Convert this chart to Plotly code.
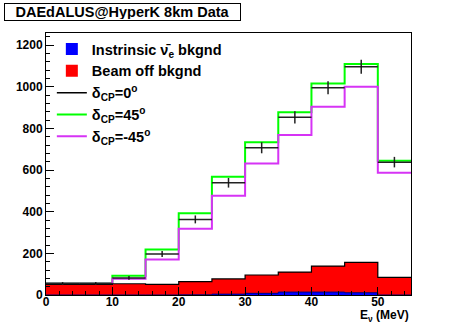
import numpy as np
import plotly.graph_objects as go

# 5 MeV bins from 0 to 55 MeV
bin_edges = [0, 5, 10, 15, 20, 25, 30, 35, 40, 45, 50, 55]
bin_centers = [2.5, 7.5, 12.5, 17.5, 22.5, 27.5, 32.5, 37.5, 42.5, 47.5, 52.5]

intrinsic_bkg = [0, 0, 0, 0, 1, 4, 8, 14, 14, 11, 0]
beam_off_bkg = [51, 51, 54, 51, 63, 73, 88, 96, 125, 146, 85]
dcp_0 = [55, 55, 82, 197, 363, 539, 707, 853, 995, 1096, 638]
dcp_p45 = [56, 56, 92, 219, 392, 568, 733, 877, 1016, 1109, 645]
dcp_m45 = [55, 55, 78, 171, 318, 477, 632, 768, 904, 1000, 587]

FONT = "Liberation Sans"


def step(vals):
    return list(vals) + [vals[-1]]


fig = go.Figure()

fig.add_trace(go.Bar(x=bin_centers, y=intrinsic_bkg, width=5, name="Instrinsic ν̄<sub>e</sub> bkgnd",
                     marker=dict(color="#0000ff", line=dict(width=0))))
fig.add_trace(go.Bar(x=bin_centers, y=beam_off_bkg, width=5, name="Beam off bkgnd",
                     marker=dict(color="#ff0000", line=dict(width=0))))

# legend entry for the data (drawn below as error bars)
fig.add_trace(go.Scatter(x=[None], y=[None], mode="lines", name="δ<sub>CP</sub>=0<sup>o</sup>",
                         line=dict(color="black", width=1.5)))
fig.add_trace(go.Scatter(x=bin_edges, y=step(dcp_p45), mode="lines", line_shape="hv",
                         name="δ<sub>CP</sub>=45<sup>o</sup>", line=dict(color="#00ff00", width=2)))
fig.add_trace(go.Scatter(x=bin_edges, y=step(dcp_m45), mode="lines", line_shape="hv",
                         name="δ<sub>CP</sub>=-45<sup>o</sup>", line=dict(color="#d633f5", width=2)))

# outline of the background stack
stack_total = [a + b for a, b in zip(intrinsic_bkg, beam_off_bkg)]
fig.add_trace(go.Scatter(x=bin_edges, y=step(stack_total), mode="lines", line_shape="hv",
                         showlegend=False, line=dict(color="black", width=1.2)))
fig.add_trace(go.Scatter(x=bin_edges, y=step(intrinsic_bkg), mode="lines", line_shape="hv",
                         showlegend=False, line=dict(color="#000080", width=1)))

# data points with errors
fig.add_trace(go.Scatter(x=bin_centers, y=dcp_0, mode="markers", showlegend=False,
                         marker=dict(size=1, color="black"),
                         error_x=dict(type="constant", value=2.5, width=0, thickness=1.5, color="#222"),
                         error_y=dict(type="data", array=list(np.sqrt(dcp_0)), width=0,
                                      thickness=1.5, color="#222")))

fig.add_annotation(text="<b>DAEdALUS@HyperK 8km Data</b>", xref="paper", yref="paper",
                   x=-0.115, y=1.115, xanchor="left", yanchor="top", showarrow=False,
                   width=233, height=14, borderpad=1, bordercolor="black", borderwidth=1,
                   font=dict(family=FONT, size=14.5, color="black"), bgcolor="white")
fig.add_annotation(text="<b>E<sub>ν</sub> (MeV)</b>", xref="paper", yref="paper",
                   x=1.0, y=-0.08, xanchor="right", yanchor="middle", showarrow=False,
                   font=dict(family=FONT, size=12, color="black"))

fig.update_layout(
    width=457, height=328,
    margin=dict(l=46, r=46, t=33, b=33),
    paper_bgcolor="white", plot_bgcolor="white",
    barmode="stack", bargap=0,
    font=dict(family=FONT, color="black"),
    legend=dict(x=0.016, y=1.0, xanchor="left", yanchor="top", bgcolor="rgba(0,0,0,0)",
                font=dict(family=FONT, size=14.5, weight="bold"), traceorder="normal"),
)
fig.update_xaxes(range=[0, 55], dtick=10, ticks="inside", ticklen=8, tickcolor="black",
                 showline=True, linecolor="black", linewidth=1, mirror=True, showgrid=False,
                 zeroline=False, tickfont=dict(family=FONT, size=12, weight="bold"),
                 ticklabelstandoff=-4,
                 minor=dict(dtick=2, ticks="inside", ticklen=4, tickcolor="black"))
fig.update_yaxes(range=[0, 1258], dtick=200, ticks="inside", ticklen=8, tickcolor="black",
                 showline=True, linecolor="black", linewidth=1, mirror=True, showgrid=False,
                 zeroline=False, tickfont=dict(family=FONT, size=12, weight="bold"),
                 minor=dict(dtick=40, ticks="inside", ticklen=4, tickcolor="black"))

# drop the default 8px page margin so the figure sits at the window corner
fig.write_html("out.html", config={"displayModeBar": False},
               post_script="document.body.style.margin = '0';")
